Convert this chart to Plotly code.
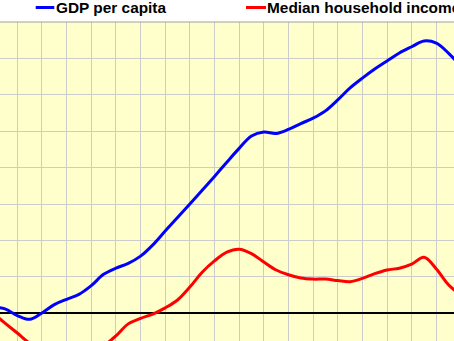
import plotly.graph_objects as go

years = list(range(1968, 2007))
gdp_per_capita = [1.7, 1.2, -0.6, -1.65, 0.1, 2.4, 3.85, 5.2, 7.6, 10.7, 12.4, 13.7, 15.7, 18.8,
                  22.6, 26.3, 30.0, 33.8, 37.6, 41.5, 45.3, 48.7, 49.8, 49.4, 50.5, 52.1, 53.6,
                  55.6, 58.6, 61.9, 64.6, 67.1, 69.3, 71.5, 73.2, 74.8, 74.2, 71.4, 67.7]
median_household_income = [0.1, -2.7, -5.4, -8.2, -10.1, -11.5, -12.0, -12.0, -10.9, -9.0, -6.2,
                           -2.9, -1.4, -0.2, 1.5, 3.65, 7.2, 11.3, 14.4, 16.8, 17.6, 16.4, 14.1,
                           11.9, 10.6, 9.7, 9.4, 9.4, 9.0, 8.7, 9.6, 10.9, 11.9, 12.4, 13.5, 15.4,
                           12.2, 7.8, 5.0]
series_names = ["GDP per capita", "Median household income"]
series_colors = ["#0000ff", "#ff0000"]

W, H = 454, 341
T = 22
plot_h = H - T

fig = go.Figure()
for name, vals, col in zip(series_names, [gdp_per_capita, median_household_income], series_colors):
    fig.add_trace(go.Scatter(x=years, y=vals, mode="lines", name=name,
                             line=dict(color=col, width=3, shape="spline", smoothing=1.0),
                             showlegend=False))

font_family = "Liberation Sans, Arial, sans-serif"

# legend drawn as annotations + sample lines (the legend is cropped at the right edge)
leg = [(35.7, 54.3, 55.0, 7.5, series_names[0], series_colors[0]),
       (246.0, 266.0, 265.5, 7.5, series_names[1], series_colors[1])]
shapes = []
annotations = []
for x0, x1, tx, py, label, col in leg:
    yp = (H - py) / plot_h
    shapes.append(dict(type="line", xref="paper", yref="paper", x0=x0 / W, x1=x1 / W,
                       y0=yp, y1=yp, line=dict(color=col, width=3)))
    annotations.append(dict(text=label, xref="paper", yref="paper", x=tx / W, y=yp,
                            xanchor="left", yanchor="middle", showarrow=False,
                            borderpad=0,
                            font=dict(family=font_family, size=15.4, color="#000000",
                                      weight="bold")))
# top border of plot area
shapes.append(dict(type="line", xref="paper", yref="paper", x0=0, x1=1, y0=1, y1=1,
                   line=dict(color="#a0a0a0", width=1)))

x0_year = 1970 - 17.3 / 12.325
x1_year = x0_year + W / 12.325

fig.update_layout(
    width=W, height=H,
    margin=dict(l=0, r=0, t=T, b=0, pad=0),
    paper_bgcolor="#ffffff",
    plot_bgcolor="#ffffcc",
    shapes=shapes,
    annotations=annotations,
    xaxis=dict(range=[x0_year, x1_year], tick0=1970, dtick=2, showticklabels=False,
               ticks="", showgrid=True, gridcolor="#cccccc", gridwidth=1,
               zeroline=False, showline=False, fixedrange=True),
    yaxis=dict(range=[-7.6, 80], tick0=0, dtick=10, showticklabels=False, ticks="",
               showgrid=True, gridcolor="#cccccc", gridwidth=1,
               zeroline=True, zerolinecolor="#000000", zerolinewidth=1.5,
               showline=False, fixedrange=True),
    font=dict(family=font_family),
)

fig.write_html("out.html", config={"displayModeBar": False})
